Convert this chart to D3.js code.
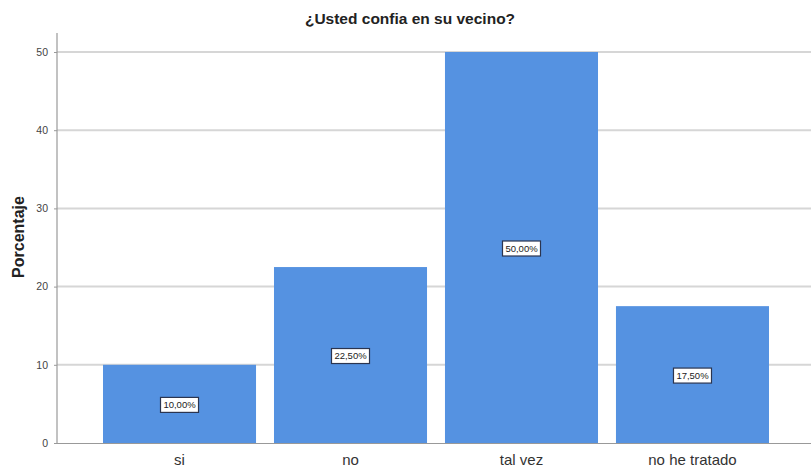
<!DOCTYPE html>
<html><head><meta charset="utf-8">
<script src="https://cdn.jsdelivr.net/npm/d3@7"></script>
<style>body{margin:0;background:#fff;}svg{display:block;font-family:"Liberation Sans",Arial,sans-serif;}</style>
</head><body>
<svg id="c" width="811" height="468"></svg>
<script>
const categories = ["si","no","tal vez","no he tratado"];
const values = [10.0, 22.5, 50.0, 17.5];
const valueLabels = ["10,00%","22,50%","50,00%","17,50%"];
const yTicks = [0,10,20,30,40,50];
const title = "¿Usted confia en su vecino?";
const yTitle = "Porcentaje";

const svg = d3.select("#c");
const x = d3.scaleBand().domain(categories).range([57, 815]).paddingInner(0.105).paddingOuter(0.269);
const y = d3.scaleLinear().domain([0, 50]).range([443, 52]);

// gridlines
svg.append("g").selectAll("line").data(yTicks.filter(d=>d>0)).join("line")
  .attr("x1", 57).attr("x2", 811).attr("y1", d=>y(d)).attr("y2", d=>y(d))
  .attr("stroke", "#d6d6d6").attr("stroke-width", 2);

// bars
svg.append("g").selectAll("rect").data(values).join("rect")
  .attr("x", (d,i)=>x(categories[i])).attr("width", x.bandwidth())
  .attr("y", d=>y(d)).attr("height", d=>y(0)-y(d))
  .attr("fill", "#5592e1");

// y axis
const yAxis = d3.axisLeft(y).tickValues(yTicks).tickSize(3).tickPadding(6);
const gy = svg.append("g").attr("transform","translate(57,0)").call(yAxis);
gy.select(".domain").remove();
gy.selectAll(".tick line").attr("stroke","#999");
gy.selectAll("text").attr("font-size", 10.5).attr("fill","#444").attr("font-family","Liberation Sans, Arial, sans-serif");
svg.append("line").attr("x1",57).attr("x2",57).attr("y1",33).attr("y2",443).attr("stroke","#999").attr("stroke-width",1.2);

// x axis
const xAxis = d3.axisBottom(x).tickSize(0).tickPadding(11);
const gx = svg.append("g").attr("transform","translate(0,443)").call(xAxis);
gx.select(".domain").remove();
gx.selectAll("text").attr("font-size", 15).attr("fill","#333").attr("font-family","Liberation Sans, Arial, sans-serif");
svg.append("line").attr("x1",57).attr("x2",811).attr("y1",443.5).attr("y2",443.5).attr("stroke","#999").attr("stroke-width",1.2);

// value labels
const lg = svg.append("g").selectAll("g").data(values).join("g")
  .attr("transform",(d,i)=>`translate(${x(categories[i])+x.bandwidth()/2},${(y(d)+y(0))/2 + 1})`);
lg.append("rect").attr("x",-19).attr("y",-7.5).attr("width",38).attr("height",15)
  .attr("fill","#fff").attr("stroke","#2b3550").attr("stroke-width",1.2);
lg.append("text").attr("text-anchor","middle").attr("dy","0.35em")
  .attr("font-size",9.5).attr("fill","#222").text((d,i)=>valueLabels[i]);

// titles
svg.append("text").attr("x",410).attr("y",24).attr("text-anchor","middle")
  .attr("font-size",15.5).attr("font-weight","bold").attr("fill","#222").text(title);
svg.append("text").attr("transform","translate(24,237) rotate(-90)").attr("text-anchor","middle")
  .attr("font-size",16).attr("font-weight","bold").attr("fill","#222").text(yTitle);
</script>
</body></html>
